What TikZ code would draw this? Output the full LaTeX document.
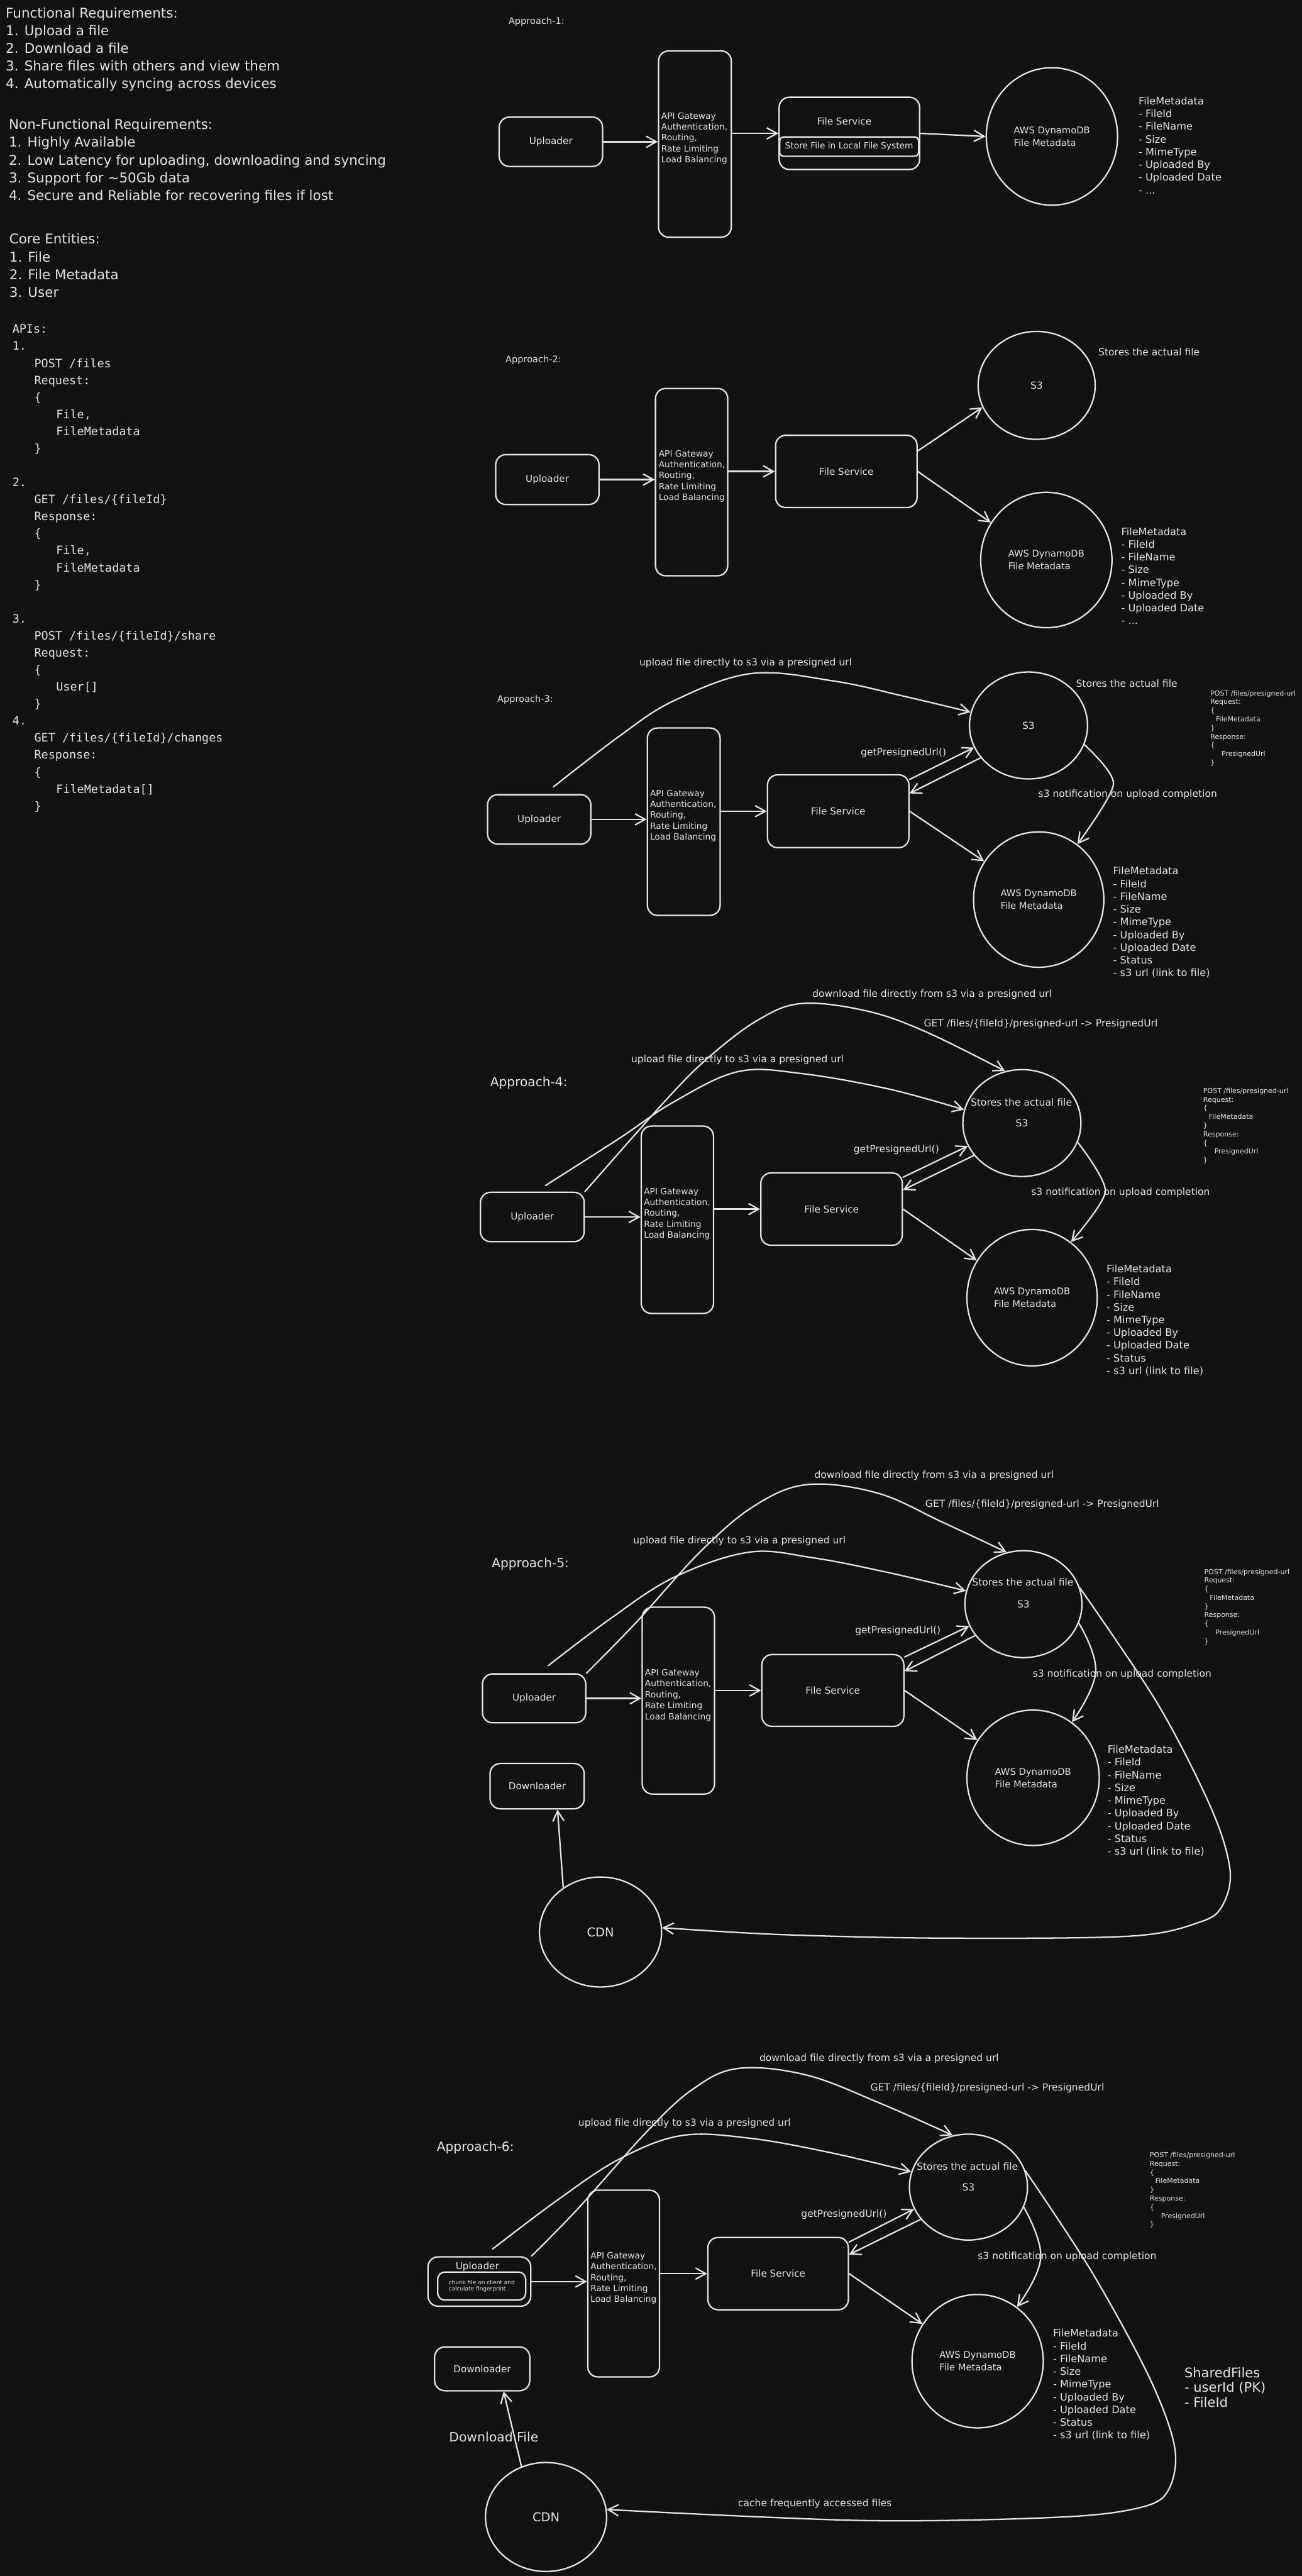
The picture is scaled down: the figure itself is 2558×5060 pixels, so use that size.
\documentclass[tikz,border=0pt]{standalone}
\usepackage{fontspec}
\setmainfont{DejaVu Sans}
\newfontfamily\monof{DejaVu Sans Mono}
\usetikzlibrary{fit,shapes.geometric,arrows.meta}
\definecolor{bg}{HTML}{121212}
\definecolor{ink}{HTML}{E4E4E4}
\newcommand\fReq{\fontsize{13.25}{17.4}\selectfont}
\newcommand\fApi{\monof\fontsize{11.4}{16.73}\selectfont}
\newcommand\fApS{\fontsize{9}{11}\selectfont}
\newcommand\fApL{\fontsize{12.45}{15}\selectfont}
\newcommand\fBox{\fontsize{9.4}{11.5}\selectfont}
\newcommand\fGw{\fontsize{8.5}{10.75}\selectfont}
\newcommand\fEll{\fontsize{9.1}{12.5}\selectfont}
\newcommand\fLst{\fontsize{10}{12.5}\selectfont}
\newcommand\fLbl{\fontsize{9.6}{11.5}\selectfont}
\newcommand\fPost{\fontsize{6.8}{8.5}\selectfont}
\newcommand\fStore{\fontsize{8.5}{10}\selectfont}
\newcommand\fBig{\fontsize{13}{14.75}\selectfont}
\newcommand\fDl{\fontsize{12.6}{15}\selectfont}
\newcommand\fCdn{\fontsize{12}{14}\selectfont}
\newcommand\fTiny{\fontsize{5.55}{6.5}\selectfont}
\newcommand\postblock{POST /files/presigned-url\\Request:\\\{\\\hspace*{5.5pt}FileMetadata\\\}\\Response:\\\{\\\hspace*{11pt}PresignedUrl\\\}}
\newcommand\gwtext{API Gateway\\Authentication,\\Routing,\\Rate Limiting\\Load Balancing}
\newcommand\listA{FileMetadata\\- FileId\\- FileName\\- Size\\- MimeType\\- Uploaded By\\- Uploaded Date\\- ...}
\newcommand\listB{FileMetadata\\- FileId\\- FileName\\- Size\\- MimeType\\- Uploaded By\\- Uploaded Date\\- Status\\- s3 url (link to file)}
\tikzset{
  box/.style={draw=ink, line width=1.4pt, rounded corners=10pt, inner sep=0pt},
  btx/.style={text=ink, inner sep=0pt, font=\fBox, align=center, anchor=center},
  ell/.style={draw=ink, line width=1.4pt, ellipse, inner sep=0pt, align=left, text=ink, font=\fEll},
  arr/.style={draw=ink, line width=1.4pt, line cap=round, -{Straight Barb[length=10pt,width=11pt]}},
  txt/.style={text=ink, inner sep=0pt, align=left, anchor=west},
  gw/.style={txt, font=\fGw},
  lst/.style={txt, font=\fLst},
  lbl/.style={txt, font=\fLbl},
  post/.style={txt, font=\fPost},
}
\begin{document}
\begin{tikzpicture}[x=0.5pt,y=-0.5pt]
\fill[bg] (0,0) rectangle (2558,5060);
\useasboundingbox (0,0) rectangle (2558,5060);

% ---------------- left texts
\node[txt, font=\fReq] (req) at (11,97) {Functional Requirements:\\1. Upload a file\\2. Download a file\\3. Share files with others and view them\\4. Automatically syncing across devices};
\node[txt, font=\fReq] (nfr) at (17,316.5) {Non-Functional Requirements:\\1. Highly Available\\2. Low Latency for uploading, downloading and syncing\\3. Support for \textasciitilde 50Gb data\\4. Secure and Reliable for recovering files if lost};
\node[txt, font=\fReq] (core) at (18,521.5) {Core Entities:\\1. File\\2. File Metadata\\3. User};
\node[txt, font=\fApi] (apis) at (24,1116.5) {APIs:\\
1.\\
\hspace*{21.5pt}POST /files\\
\hspace*{21.5pt}Request:\\
\hspace*{21.5pt}\{\\
\hspace*{43pt}File,\\
\hspace*{43pt}FileMetadata\\
\hspace*{21.5pt}\}\\[16.73pt]
2.\\
\hspace*{21.5pt}GET /files/\{fileId\}\\
\hspace*{21.5pt}Response:\\
\hspace*{21.5pt}\{\\
\hspace*{43pt}File,\\
\hspace*{43pt}FileMetadata\\
\hspace*{21.5pt}\}\\[16.73pt]
3.\\
\hspace*{21.5pt}POST /files/\{fileId\}/share\\
\hspace*{21.5pt}Request:\\
\hspace*{21.5pt}\{\\
\hspace*{43pt}User[]\\
\hspace*{21.5pt}\}\\
4.\\
\hspace*{21.5pt}GET /files/\{fileId\}/changes\\
\hspace*{21.5pt}Response:\\
\hspace*{21.5pt}\{\\
\hspace*{43pt}FileMetadata[]\\
\hspace*{21.5pt}\}};

% ---------------- Approach 1
\node[txt, font=\fApS] (ap1) at (999,43) {Approach-1:};
\node[box, fit={(981,230) (1184,327)}] (up1) {};
\node[btx] (up1t) at (up1.center) {Uploader};
\node[box, fit={(1294,100) (1437,466)}] (api1) {};
\node[gw] (gwt1) at (1299,272) {\gwtext};
\node[box, fit={(1531,191) (1807,333)}] (fs1) {};
\node[btx] (fst1) at (1659,238) {File Service};
\node[box, rounded corners=4pt, fit={(1532,269) (1805,307)}] (st1) {};
\node[btx, font=\fStore] (st1t) at (st1.center) {Store File in Local File System};
\node[ell, minimum width=129pt, minimum height=135pt] (db1) at (2067,268) {AWS DynamoDB\\File Metadata};
\node[lst] (l1) at (2237,285.5) {\listA};
\draw[arr] (up1.east) -- (up1.east -| api1.west);
\draw[arr] (fs1.west -| api1.east) -- (fs1.west);
\draw[arr] (fs1.east) -- (db1.west);

% ---------------- Approach 2
\node[txt, font=\fApS] (ap2) at (993,707) {Approach-2:};
\node[ell, font=\fLbl, minimum width=115pt, minimum height=106pt] (s3b) at (2037,757) {S3};
\node[lbl] (sto2) at (2158,691) {Stores the actual file};
\node[box, fit={(974,893) (1177,991)}] (up2) {};
\node[btx] (up2t) at (up2.center) {Uploader};
\node[box, fit={(1288,763) (1430,1131)}] (api2) {};
\node[gw] (gwt2) at (1294,935.5) {\gwtext};
\node[box, fit={(1524,855) (1802,997)}] (fs2) {};
\node[btx] (fs2t) at (fs2.center) {File Service};
\node[ell, minimum width=129pt, minimum height=133pt] (db2) at (2056,1100) {AWS DynamoDB\\File Metadata};
\node[lst] (l2) at (2203,1131.5) {\listA};
\draw[arr] (up2.east) -- (up2.east -| api2.west);
\draw[arr] (fs2.west -| api2.east) -- (fs2.west);
\draw[arr] (fs2.16) -- (s3b.202);
\draw[arr] (fs2.east) -- (db2.146);

% ---------------- Approach 3
\node[txt, font=\fApS] (ap3) at (977,1374) {Approach-3:};
\node[lbl] (upl3) at (1256,1302) {upload file directly to s3 via a presigned url};
\node[ell, font=\fLbl, minimum width=116pt, minimum height=105pt] (s3c) at (2021,1425) {S3};
\node[lbl] (sto3) at (2114,1343) {Stores the actual file};
\node[post] (post3) at (2378,1430.5) {\postblock};
\node[lbl] (gp3) at (1691,1479) {getPresignedUrl()};
\node[box, fit={(958,1561) (1161,1658)}] (up3) {};
\node[btx] (up3t) at (up3.center) {Uploader};
\node[box, fit={(1272,1430) (1415,1798)}] (api3) {};
\node[gw] (gwt3) at (1277,1602.5) {\gwtext};
\node[box, fit={(1508,1522) (1786,1665)}] (fs3) {};
\node[btx] (fs3t) at (fs3.center) {File Service};
\node[ell, minimum width=128pt, minimum height=133pt] (db3) at (2041,1767) {AWS DynamoDB\\File Metadata};
\node[lst] (l3) at (2187,1812) {\listB};
\draw[arr] (up3.east) -- (up3.east -| api3.west);
\draw[arr] (fs3.west -| api3.east) -- (fs3.west);
\draw[arr] (fs3.24) -- (s3c.202);
\draw[arr] (s3c.214) -- (fs3.14);
\draw[arr] (fs3.east) -- (db3.145);
\draw[arr] plot[smooth, tension=0.45] coordinates {(s3c.341) (2188,1540) (db3.55)};
\node[lbl] (nt3) at (2040,1561) {s3 notification on upload completion};
\coordinate (c3s) at ([xshift=14pt,yshift=7pt]up3.north);
\draw[arr] plot[smooth, tension=0.6] coordinates {(c3s) (1217,1446) (1323,1377) (1476,1323) (1640,1338) (1778,1368) (s3c.167)};

% ---------------- Approach 4
\node[txt, font=\fApL] (ap4) at (963,2127) {Approach-4:};
\node[lbl] (dlt4) at (1596,1953) {download file directly from s3 via a presigned url};
\node[lbl] (get4) at (1815,2011) {GET /files/\{fileId\}/presigned-url -> PresignedUrl};
\node[lbl] (upl4) at (1240,2082) {upload file directly to s3 via a presigned url};
\node[ell, font=\fLbl, minimum width=116pt, minimum height=105pt] (s3d) at (2008,2206) {S3};
\node[lbl] (sto4) at (1907,2165) {Stores the actual file};
\node[post] (post4) at (2364,2211.5) {\postblock};
\node[lbl] (gp4) at (1677,2259) {getPresignedUrl()};
\node[box, fit={(944,2342) (1148,2439)}] (up4) {};
\node[btx] (up4t) at (up4.center) {Uploader};
\node[box, fit={(1260,2212) (1402,2580)}] (api4) {};
\node[gw] (gwt4) at (1265,2384.5) {\gwtext};
\node[box, fit={(1495,2304) (1773,2446)}] (fs4) {};
\node[btx] (fs4t) at (fs4.center) {File Service};
\node[ell, minimum width=128pt, minimum height=134pt] (db4) at (2028,2549) {AWS DynamoDB\\File Metadata};
\node[lst] (l4) at (2174,2593.5) {\listB};
\draw[arr] (up4.east) -- (up4.east -| api4.west);
\draw[arr] (fs4.west -| api4.east) -- (fs4.west);
\draw[arr] (fs4.24) -- (s3d.203);
\draw[arr] (s3d.214) -- (fs4.15);
\draw[arr] (fs4.east) -- (db4.146);
\draw[arr] plot[smooth, tension=0.45] coordinates {(s3d.341) (2172,2340) (db4.55)};
\node[lbl] (nt4) at (2026,2343) {s3 notification on upload completion};
\draw[arr] plot[smooth, tension=0.6] coordinates {(up4.north east) (1312,2157) (1397,2073) (1492,2002) (1577,1971) (1704,1986) (1820,2027) (s3d.108)};
\coordinate (c4u) at ([xshift=13pt,yshift=6pt]up4.north);
\draw[arr] plot[smooth, tension=0.6] coordinates {(c4u) (1217,2236) (1323,2165) (1450,2105) (1577,2109) (1746,2139) (s3d.167)};

% ---------------- Approach 5
\node[txt, font=\fApL] (ap5) at (966,3072) {Approach-5:};
\node[lbl] (dlt5) at (1600,2898) {download file directly from s3 via a presigned url};
\node[lbl] (get5) at (1818,2955) {GET /files/\{fileId\}/presigned-url -> PresignedUrl};
\node[lbl] (upl5) at (1244,3027) {upload file directly to s3 via a presigned url};
\node[ell, font=\fLbl, minimum width=115pt, minimum height=105pt] (s3e) at (2011,3151) {S3};
\node[lbl] (sto5) at (1910,3108) {Stores the actual file};
\node[post] (post5) at (2366,3156) {\postblock};
\node[lbl] (gp5) at (1680,3204) {getPresignedUrl()};
\node[box, fit={(948,3288) (1151,3384)}] (up5) {};
\node[btx] (up5t) at (up5.center) {Uploader};
\node[box, fit={(1262,3157) (1404,3524)}] (api5) {};
\node[gw] (gwt5) at (1267,3330) {\gwtext};
\node[box, fit={(1497,3250) (1776,3391)}] (fs5) {};
\node[btx] (fs5t) at (fs5.center) {File Service};
\node[ell, minimum width=130pt, minimum height=133pt] (db5) at (2030,3492) {AWS DynamoDB\\File Metadata};
\node[lst] (l5) at (2176,3537.5) {\listB};
\node[box, fit={(963,3464) (1148,3553)}] (dlr5) {};
\node[btx] (dlr5t) at (dlr5.center) {Downloader};
\node[ell, font=\fCdn, minimum width=120pt, minimum height=108pt] (cdn5) at (1180,3795) {CDN};
\draw[arr] (up5.east) -- (up5.east -| api5.west);
\draw[arr] (fs5.west -| api5.east) -- (fs5.west);
\draw[arr] (fs5.25) -- (s3e.202);
\draw[arr] (s3e.213) -- (fs5.15);
\draw[arr] (fs5.east) -- (db5.146);
\draw[arr] plot[smooth, tension=0.7] coordinates {(s3e.341) (2153,3284) (db5.55)};
\node[lbl] (nt5) at (2029,3289) {s3 notification on upload completion};
\draw[arr] plot[smooth, tension=0.6] coordinates {(up5.north east) (1249,3188) (1376,3048) (1482,2958) (1587,2916) (1725,2933) (1852,2990) (s3e.108)};
\coordinate (c5u) at ([xshift=14pt,yshift=7.5pt]up5.north);
\draw[arr] plot[smooth, tension=0.6] coordinates {(c5u) (1196,3182) (1323,3099) (1471,3049) (1598,3060) (1746,3089) (s3e.167)};
\draw[arr] plot[smooth, tension=0.55] coordinates {(s3e.16) (2275,3347) (2380,3552) (2417,3673) (2402,3743) (2359,3775) (2222,3803) (1852,3807) (1534,3800) (cdn5.4)};
\draw[arr] (cdn5.130) -- ([xshift=20pt]dlr5.south);

% ---------------- Approach 6
\node[txt, font=\fApL] (ap6) at (858,4218) {Approach-6:};
\node[lbl] (dlt6) at (1492,4044) {download file directly from s3 via a presigned url};
\node[lbl] (get6) at (1710,4101) {GET /files/\{fileId\}/presigned-url -> PresignedUrl};
\node[lbl] (upl6) at (1136,4171) {upload file directly to s3 via a presigned url};
\node[ell, font=\fLbl, minimum width=116pt, minimum height=104pt] (s3f) at (1903,4296) {S3};
\node[lbl] (sto6) at (1801,4255) {Stores the actual file};
\node[post] (post6) at (2259,4302) {\postblock};
\node[lbl] (gp6) at (1574,4350) {getPresignedUrl()};
\node[box, fit={(841,4433) (1043,4530)}] (up6) {};
\node[btx] (upt6) at (938,4452) {Uploader};
\node[box, rounded corners=7pt, fit={(860,4463) (1033,4518)}] (chk6) {};
\node[btx, font=\fTiny, align=left] (chk6t) at (chk6.center) {chunk file on client and\\calculate fingerprint};
\node[box, fit={(1155,4302) (1296,4669)}] (api6) {};
\node[gw] (gwt6) at (1160,4475) {\gwtext};
\node[box, fit={(1391,4395) (1667,4537)}] (fs6) {};
\node[btx] (fs6t) at (fs6.center) {File Service};
\node[ell, minimum width=129pt, minimum height=131pt] (db6) at (1921,4638) {AWS DynamoDB\\File Metadata};
\node[lst] (l6) at (2069,4684) {\listB};
\node[txt, font=\fBig] (shf) at (2327,4689.5) {SharedFiles\\- userId (PK)\\- FileId};
\node[box, fit={(854,4610) (1041,4696)}] (dlr6) {};
\node[btx] (dlr6t) at (dlr6.center) {Downloader};
\node[txt, font=\fDl] (dlf6) at (882,4787) {Download File};
\node[ell, font=\fCdn, minimum width=119pt, minimum height=107pt] (cdn6) at (1073,4944) {CDN};
\node[lbl] (cache6) at (1450,4918) {cache frequently accessed files};
\draw[arr] (up6.east) -- (up6.east -| api6.west);
\draw[arr] (fs6.west -| api6.east) -- (fs6.west);
\draw[arr] (fs6.24) -- (s3f.202);
\draw[arr] (s3f.214) -- (fs6.15);
\draw[arr] (fs6.east) -- (db6.146);
\draw[arr] plot[smooth, tension=0.7] coordinates {(s3f.340) (2045,4435) (db6.54)};
\node[lbl] (nt6) at (1921,4433) {s3 notification on upload completion};
\draw[arr] plot[smooth, tension=0.6] coordinates {(up6.north east) (1136,4338) (1271,4187) (1361,4104) (1450,4063) (1585,4076) (1731,4132) (s3f.107)};
\coordinate (c6u) at ([xshift=13pt,yshift=7pt]up6.north);
\draw[arr] plot[smooth, tension=0.6] coordinates {(c6u) (1092,4324) (1215,4242) (1338,4195) (1473,4200) (1630,4228) (s3f.165)};
\draw[arr] plot[smooth, tension=0.55] coordinates {(s3f.16) (2145,4462) (2258,4669) (2308,4806) (2297,4889) (2246,4924) (2089,4944) (1697,4951) (cdn6.7)};
\draw[arr] (cdn6.116) -- ([xshift=21pt]dlr6.south);
\end{tikzpicture}
\end{document}
